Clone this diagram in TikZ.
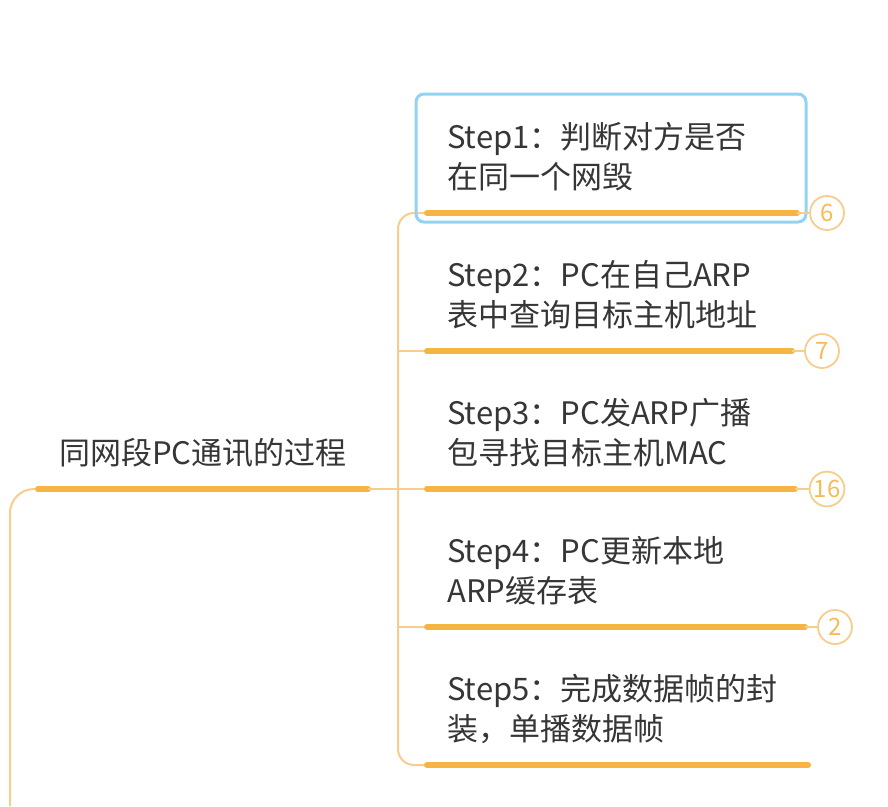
\documentclass[tikz,border=0pt]{standalone}
\usepackage{fontspec}
\setmainfont{Noto Sans CJK SC}
\usetikzlibrary{positioning}

\definecolor{branchorange}{HTML}{F6B443}
\definecolor{linkorange}{HTML}{F8CD8C}
\definecolor{selblue}{HTML}{93D3F2}
\definecolor{textgray}{HTML}{363636}

\begin{document}
\begin{tikzpicture}[x=1pt,y=-1pt,
    steptext/.style={anchor=west, align=left, text=textgray, inner sep=0pt,
        font=\fontsize{31}{40}\selectfont},
    underline/.style={draw=branchorange, line width=6pt, line cap=round},
    link/.style={draw=linkorange, line width=2pt},
    countbadge/.style={circle, draw=linkorange, line width=1.8pt, minimum size=34pt,
        inner sep=1pt, text=branchorange!90, font=\fontsize{24}{24}\selectfont}]
    \useasboundingbox (0,0) rectangle (888,806);

    % root topic
    \coordinate (rootbot) at (10,806);
    \coordinate (roota) at (38,489);
    \coordinate (rootb) at (368,489);
    \coordinate (fork) at (398,489);
    \node[steptext, anchor=center] (root) at (203,453) {同网段PC通讯的过程};
    \draw[link, rounded corners=24pt] (rootbot) |- (roota);
    \draw[underline] (roota) -- (rootb);
    \draw[link] (rootb) -- (fork);

    % step underlines
    \foreach \i/\y/\e in {1/213/797, 2/351/792, 3/489/795, 4/627/805, 5/765/808} {
        \coordinate (s\i a) at (427,\y);
        \coordinate (s\i b) at (\e,\y);
    }

    % trunk to the steps
    \draw[link, rounded corners=16pt] (s1a) -| (fork) |- (s5a);
    \draw[link] (s2a -| fork) -- (s2a);
    \draw[link] (fork) -- (s3a);
    \draw[link] (s4a -| fork) -- (s4a);

    % selected topic
    \draw[selblue, line width=3pt, rounded corners=8pt] (416,94) rectangle (806,222);

    \node[steptext] (t1) at (447,157) {Step1：判断对方是否\\在同一个网毁};
    \node[steptext] (t2) at (447,295) {Step2：PC在自己ARP\\表中查询目标主机地址};
    \node[steptext] (t3) at (447,433) {Step3：PC发ARP广播\\包寻找目标主机MAC};
    \node[steptext] (t4) at (447,571) {Step4：PC更新本地\\ARP缓存表};
    \node[steptext] (t5) at (447,709) {Step5：完成数据帧的封\\装，单播数据帧};

    \foreach \i in {1,...,5}
        \draw[underline] (s\i a) -- (s\i b);

    % counters
    \node[countbadge] (n1) at (827,213) {6};
    \node[countbadge] (n2) at (822,351) {7};
    \node[countbadge] (n3) at (827,489) {16};
    \node[countbadge] (n4) at (835,627) {2};
    \draw[link] (s1b) -- (n1);
    \draw[link] (s2b) -- (n2);
    \draw[link] (s3b) -- (n3);
    \draw[link] (s4b) -- (n4);
\end{tikzpicture}
\end{document}
